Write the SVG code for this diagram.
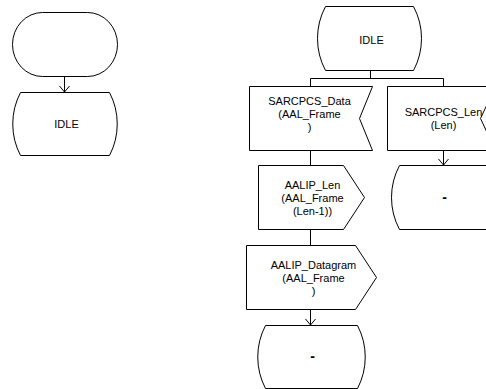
<svg xmlns="http://www.w3.org/2000/svg" width="486" height="389" viewBox="0 0 486 389">
<style>
.s{fill:#fff;stroke:#000;stroke-width:1}
.c{fill:none;stroke:#000;stroke-width:1}
text{font-family:"Liberation Sans",Arial,sans-serif;font-size:11px;fill:#000;text-anchor:middle}
.d{font-size:14px;font-weight:bold}
</style>
<rect width="486" height="389" fill="#fff"/>
<g id="connectors">
<line class="c" x1="64.5" y1="77" x2="64.5" y2="92"/>
<path class="c" d="M59.5,86 L64.5,92 L69.5,86"/>
<line class="c" x1="370.5" y1="70" x2="370.5" y2="78.5"/>
<line class="c" x1="310.5" y1="78.5" x2="443.5" y2="78.5"/>
<line class="c" x1="310.5" y1="78.5" x2="310.5" y2="86"/>
<line class="c" x1="443.5" y1="78.5" x2="443.5" y2="86"/>
<line class="c" x1="310.5" y1="150" x2="310.5" y2="165"/>
<line class="c" x1="310.5" y1="229" x2="310.5" y2="245"/>
<line class="c" x1="310.5" y1="309" x2="310.5" y2="325"/>
<path class="c" d="M305.5,319 L310.5,325 L315.5,319"/>
<line class="c" x1="443.5" y1="150" x2="443.5" y2="165"/>
<path class="c" d="M438.5,159 L443.5,165 L448.5,159"/>
</g>
<g id="start">
<rect class="s" x="12.5" y="12.5" width="105" height="64" rx="30" ry="32"/>
</g>
<g id="idle1">
<path class="s" d="M20.5,92.5 L109.5,92.5 A68,68 0 0 1 109.5,155.5 L20.5,155.5 A68,68 0 0 1 20.5,92.5 Z"/>
<text x="66.5" y="128">IDLE</text>
</g>
<g id="idle2">
<path class="s" d="M325.5,6.5 L413.5,6.5 A68,68 0 0 1 413.5,70.5 L325.5,70.5 A68,68 0 0 1 325.5,6.5 Z"/>
<text x="371.5" y="43.5">IDLE</text>
</g>
<g id="input_data">
<polygon class="s" points="249.5,86.5 372.5,86.5 359.5,118.5 372.5,150.5 249.5,150.5"/>
<text x="309.5" y="105">SARCPCS_Data</text>
<text x="309.5" y="118">(AAL_Frame</text>
<text x="309.5" y="131">)</text>
</g>
<g id="input_len">
<polygon class="s" points="387.5,86.5 495.5,86.5 480.5,118.5 495.5,150.5 387.5,150.5"/>
<text x="443.5" y="116">SARCPCS_Len</text>
<text x="443.5" y="128.5">(Len)</text>
</g>
<g id="output_len">
<polygon class="s" points="258.5,165.5 343.5,165.5 364.5,197.5 343.5,229.5 258.5,229.5"/>
<text x="312.5" y="189">AALIP_Len</text>
<text x="312.5" y="202">(AAL_Frame</text>
<text x="312.5" y="215">(Len-1))</text>
</g>
<g id="output_datagram">
<polygon class="s" points="246.5,245.5 355.5,245.5 376.5,277.5 355.5,309.5 246.5,309.5"/>
<text x="313.5" y="269">AALIP_Datagram</text>
<text x="313.5" y="282">(AAL_Frame</text>
<text x="313.5" y="295">)</text>
</g>
<g id="state_dash1">
<path class="s" d="M399.5,165.5 L487.5,165.5 A68,68 0 0 1 487.5,229.5 L399.5,229.5 A68,68 0 0 1 399.5,165.5 Z"/>
<text class="d" x="444.5" y="201.5">-</text>
</g>
<g id="state_dash2">
<path class="s" d="M265.5,325.5 L357.5,325.5 A68,68 0 0 1 357.5,388.5 L265.5,388.5 A68,68 0 0 1 265.5,325.5 Z"/>
<text class="d" x="312.5" y="360.5">-</text>
</g>
</svg>
